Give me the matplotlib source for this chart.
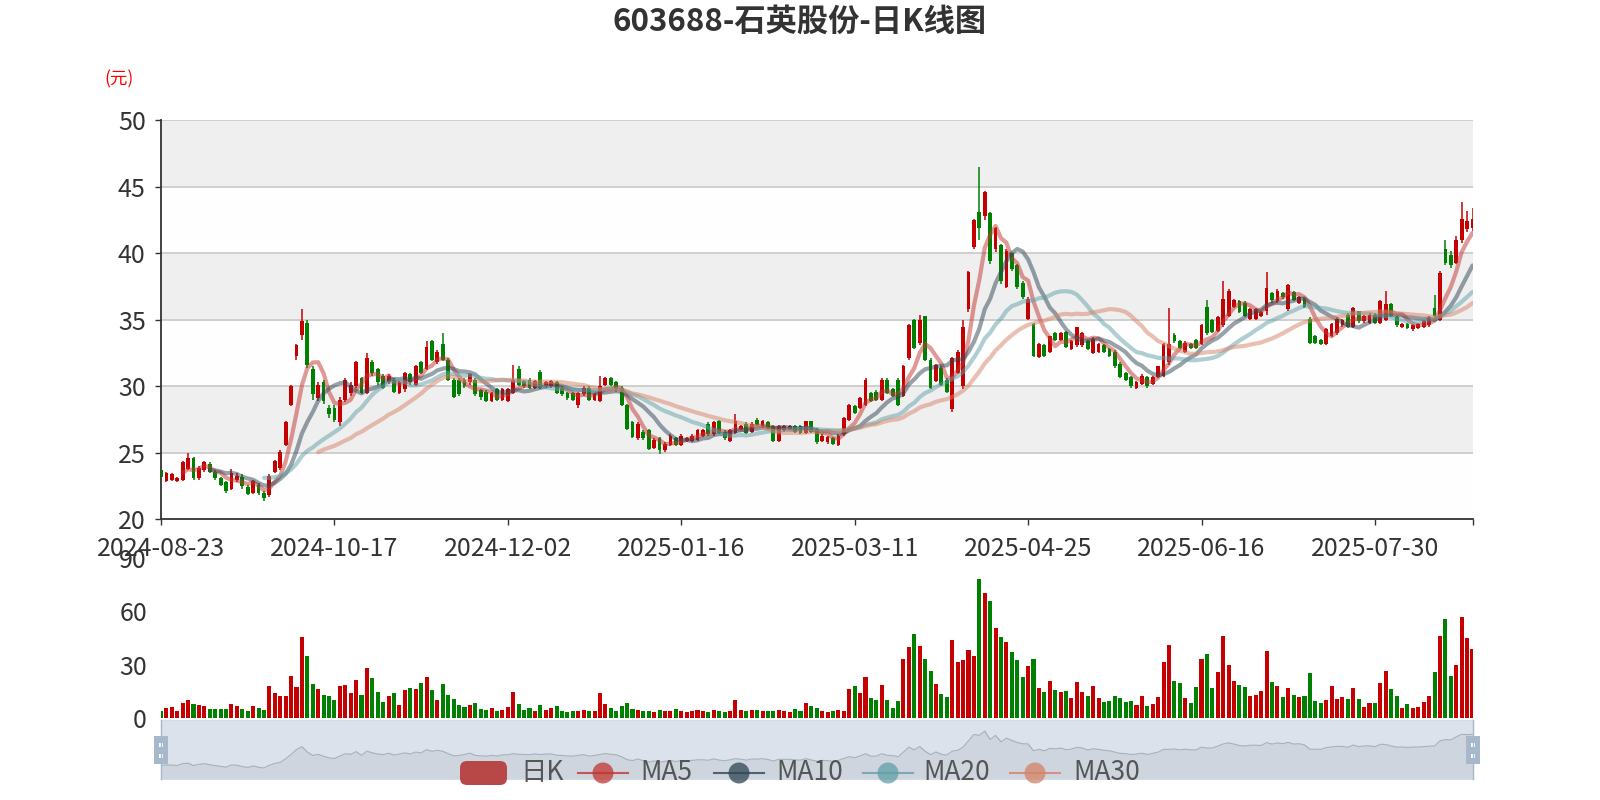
import numpy as np
import pandas as pd
import matplotlib.pyplot as plt
from matplotlib.patches import FancyBboxPatch, Rectangle, Circle

plt.rcParams['font.family'] = ['Noto Sans CJK SC', 'DejaVu Sans']

title = "603688-石英股份-日K线图"
tick_dates = ["2024-08-23", "2024-10-17", "2024-12-02", "2025-01-16",
              "2025-03-11", "2025-04-25", "2025-06-16", "2025-07-30"]

opens = [23.7, 22.9, 23.0, 22.9, 23.0, 23.8, 24.6, 23.1, 23.7, 24.2,
         23.6, 23.1, 22.8, 22.3, 23.0, 23.2, 22.4, 22.0, 22.6, 22.0,
         21.8, 23.6, 23.9, 25.6, 28.6, 32.3, 33.9, 34.8, 31.3, 29.1,
         30.3, 28.4, 28.4, 27.3, 29.0, 29.5, 30.0, 30.6, 29.5, 31.8,
         31.3, 30.8, 30.3, 30.5, 29.5, 29.8, 30.9, 30.1, 31.8, 31.3,
         33.4, 31.8, 33.2, 32.0, 30.5, 30.5, 30.5, 30.3, 30.5, 29.7,
         29.6, 28.9, 29.8, 29.0, 28.9, 29.5, 31.3, 30.4, 30.5, 29.9,
         31.1, 30.0, 30.0, 30.3, 29.9, 29.5, 29.5, 28.6, 29.4, 29.9,
         29.0, 28.9, 30.1, 30.6, 30.3, 29.9, 28.6, 27.3, 26.1, 26.6,
         26.7, 25.4, 26.1, 25.2, 25.6, 26.1, 25.6, 25.9, 25.9, 26.0,
         26.3, 27.2, 26.4, 27.4, 26.6, 25.9, 26.5, 26.8, 27.2, 26.6,
         27.5, 27.0, 27.3, 27.0, 25.9, 26.7, 26.8, 27.0, 27.0, 26.5,
         27.4, 26.8, 25.9, 25.8, 26.1, 25.6, 26.4, 27.5, 28.5, 28.4,
         28.6, 29.5, 29.6, 29.0, 30.5, 29.8, 30.5, 29.3, 32.1, 35.0,
         33.3, 35.3, 32.0, 30.4, 31.4, 30.5, 28.3, 31.0, 30.0, 35.8,
         40.5, 43.1, 42.8, 43.0, 40.3, 40.6, 37.5, 40.0, 39.1, 37.8,
         35.1, 34.7, 32.2, 33.1, 32.6, 34.0, 33.5, 34.1, 32.8, 33.1,
         33.1, 33.4, 32.5, 32.6, 33.1, 32.8, 32.6, 31.7, 31.0, 30.7,
         29.9, 30.2, 30.7, 30.2, 30.7, 30.8, 31.8, 33.9, 33.4, 32.6,
         33.2, 33.5, 33.2, 36.0, 35.0, 34.2, 34.6, 35.3, 36.0, 36.4,
         36.3, 35.1, 35.1, 35.3, 35.7, 37.0, 36.4, 37.0, 35.8, 37.1,
         36.3, 36.6, 35.1, 33.8, 33.5, 33.2, 33.8, 34.0, 34.6, 35.4,
         34.5, 35.7, 34.9, 34.8, 35.4, 34.8, 35.0, 36.2, 35.2, 34.5,
         34.7, 34.3, 34.4, 34.5, 34.6, 35.9, 35.0, 40.3, 39.9, 39.3,
         41.0, 41.8, 41.9]

closes = [23.2, 23.5, 23.4, 23.1, 24.3, 24.6, 23.1, 23.9, 24.3, 23.6,
          23.1, 22.6, 22.1, 23.5, 23.3, 22.5, 21.9, 22.9, 22.0, 21.6,
          23.3, 24.4, 25.1, 27.3, 30.0, 33.1, 34.9, 31.6, 29.4, 30.1,
          28.9, 27.9, 27.5, 29.0, 30.5, 30.1, 31.8, 29.5, 32.1, 31.0,
          30.3, 29.9, 30.8, 29.6, 30.3, 31.0, 30.3, 31.5, 31.0, 33.0,
          32.0, 32.6, 32.0, 30.5, 29.2, 29.4, 30.0, 30.9, 29.4, 29.2,
          28.9, 29.5, 29.0, 29.8, 29.8, 30.5, 30.1, 30.0, 29.9, 30.4,
          29.9, 30.3, 30.4, 29.5, 29.4, 29.1, 29.0, 29.5, 29.9, 29.0,
          29.4, 30.0, 30.6, 30.1, 29.8, 28.6, 26.8, 26.2, 27.2, 26.1,
          25.3, 26.0, 25.2, 25.7, 26.3, 25.6, 26.3, 26.1, 26.3, 26.7,
          26.7, 26.4, 27.3, 26.5, 26.1, 26.7, 27.4, 27.0, 26.5, 27.2,
          27.1, 27.4, 26.9, 25.9, 27.0, 27.0, 27.0, 26.6, 26.5, 27.4,
          26.6, 25.8, 26.3, 26.2, 25.7, 26.3, 27.6, 28.6, 28.0, 29.1,
          30.5, 28.9, 29.0, 30.5, 29.5, 29.3, 28.6, 31.5, 34.6, 32.9,
          35.0, 32.0, 29.9, 31.6, 30.1, 29.6, 32.1, 32.6, 34.5, 38.6,
          42.5, 41.9, 44.6, 39.4, 41.9, 37.9, 40.2, 38.8, 37.5, 36.7,
          36.6, 32.3, 33.2, 32.3, 33.8, 33.5, 34.0, 33.0, 33.4, 34.5,
          34.0, 32.8, 33.6, 33.2, 32.6, 32.3, 31.5, 30.7, 30.5, 30.0,
          30.3, 30.8, 30.0, 30.7, 31.5, 33.2, 33.2, 33.4, 32.9, 33.3,
          32.9, 32.9, 34.6, 34.0, 34.1, 35.2, 36.6, 37.2, 36.5, 35.6,
          35.3, 35.8, 35.8, 35.6, 37.4, 36.5, 37.2, 36.7, 37.6, 36.5,
          36.7, 36.0, 33.3, 33.3, 33.2, 34.3, 34.7, 35.1, 35.0, 34.5,
          35.9, 34.9, 35.3, 35.4, 34.8, 36.4, 36.2, 35.3, 34.6, 34.7,
          34.4, 34.6, 34.7, 34.9, 35.2, 35.3, 38.5, 39.3, 39.1, 41.0,
          42.6, 42.4, 42.6]

lows = [23.1, 22.8, 22.9, 22.8, 22.9, 23.7, 23.0, 23.0, 23.6, 23.5,
        23.0, 22.5, 22.0, 22.2, 22.8, 22.3, 21.8, 21.9, 21.8, 21.4,
        21.7, 23.5, 23.7, 25.5, 28.5, 32.0, 33.5, 31.4, 29.0, 28.9,
        28.7, 27.6, 27.3, 27.0, 28.8, 29.3, 29.9, 29.4, 29.4, 30.8,
        30.1, 29.8, 30.2, 29.5, 29.4, 29.6, 30.1, 30.0, 30.9, 31.2,
        31.9, 31.7, 31.9, 30.4, 29.1, 29.3, 29.9, 30.1, 29.3, 29.0,
        28.8, 28.8, 28.9, 28.9, 28.8, 29.4, 30.0, 29.9, 29.8, 29.8,
        29.8, 29.9, 29.9, 29.4, 29.3, 29.0, 28.9, 28.4, 29.3, 28.9,
        28.9, 28.8, 30.0, 30.0, 29.6, 28.5, 26.7, 26.1, 26.0, 26.0,
        25.2, 25.3, 24.9, 25.1, 25.5, 25.5, 25.5, 25.8, 25.8, 25.9,
        26.2, 26.3, 26.3, 26.4, 26.0, 25.8, 26.4, 26.7, 26.4, 26.5,
        27.0, 26.9, 26.8, 25.8, 25.8, 26.6, 26.7, 26.5, 26.4, 26.4,
        26.5, 25.7, 25.8, 25.7, 25.6, 25.5, 26.3, 27.4, 27.9, 28.3,
        28.5, 28.8, 28.9, 28.9, 29.4, 29.2, 28.5, 29.2, 32.0, 32.8,
        33.1, 31.9, 29.8, 30.3, 30.0, 29.5, 28.1, 30.9, 29.8, 35.6,
        40.3, 41.0, 42.5, 39.2, 40.1, 37.7, 37.4, 38.7, 37.3, 36.6,
        35.0, 32.2, 32.1, 32.2, 32.5, 33.4, 33.4, 32.9, 32.7, 33.0,
        33.0, 32.7, 32.4, 32.5, 32.5, 32.2, 31.4, 30.6, 30.4, 29.9,
        29.8, 30.1, 29.9, 30.1, 30.6, 30.7, 31.6, 33.3, 32.8, 32.5,
        32.8, 32.8, 33.1, 33.9, 34.0, 34.1, 34.5, 35.2, 35.9, 35.5,
        35.2, 35.0, 35.0, 35.2, 35.4, 36.3, 36.3, 36.6, 35.7, 36.4,
        36.2, 35.9, 33.2, 33.2, 33.1, 33.1, 33.7, 33.9, 34.5, 34.4,
        34.4, 34.8, 34.8, 34.7, 34.7, 34.7, 34.9, 35.2, 34.5, 34.4,
        34.3, 34.2, 34.3, 34.4, 34.5, 35.2, 34.9, 39.1, 38.9, 39.2,
        40.8, 41.6, 41.7]

highs = [23.8, 23.6, 23.5, 23.2, 24.4, 25.0, 24.7, 24.0, 24.4, 24.3,
         23.7, 23.2, 22.9, 23.8, 23.5, 23.4, 22.6, 23.0, 22.7, 22.1,
         23.4, 24.5, 25.2, 27.4, 30.1, 33.2, 35.8, 35.0, 31.5, 30.3,
         30.5, 28.6, 28.6, 29.2, 30.6, 30.3, 31.9, 30.7, 32.5, 32.0,
         31.4, 30.9, 30.9, 30.6, 30.4, 31.1, 31.0, 31.6, 31.9, 33.4,
         33.5, 32.7, 34.0, 32.1, 30.6, 30.6, 30.6, 31.0, 30.6, 29.8,
         29.7, 29.6, 29.9, 29.9, 29.9, 31.6, 31.5, 30.5, 30.6, 30.5,
         31.2, 30.4, 30.5, 30.4, 30.0, 29.6, 29.6, 29.6, 30.0, 30.0,
         29.5, 30.8, 30.7, 30.7, 30.4, 30.0, 28.7, 27.4, 27.3, 26.7,
         26.8, 26.1, 26.2, 25.8, 26.4, 26.2, 26.4, 26.2, 26.4, 26.8,
         26.8, 27.3, 27.4, 27.5, 26.7, 26.8, 27.9, 27.1, 27.3, 27.3,
         27.6, 27.5, 27.4, 27.1, 27.1, 27.1, 27.1, 27.1, 27.1, 27.4,
         27.4, 26.9, 26.4, 26.3, 26.2, 26.4, 27.7, 28.7, 28.6, 29.2,
         30.6, 29.6, 29.7, 30.6, 30.6, 29.9, 30.6, 31.6, 34.7, 35.1,
         35.4, 35.3, 32.1, 31.7, 31.5, 30.6, 32.2, 32.7, 35.0, 38.7,
         42.6, 46.5, 44.7, 43.1, 42.0, 40.7, 40.3, 40.0, 39.2, 37.9,
         36.7, 34.8, 33.3, 33.2, 33.8, 34.1, 34.1, 34.2, 33.5, 34.5,
         34.1, 33.5, 33.7, 33.3, 33.2, 32.9, 32.7, 31.8, 31.1, 30.8,
         30.4, 30.9, 30.8, 30.8, 31.5, 33.3, 35.9, 34.0, 33.5, 33.4,
         33.3, 33.6, 34.7, 36.5, 35.1, 35.3, 37.9, 37.3, 36.6, 36.5,
         36.4, 35.9, 35.9, 35.7, 38.6, 37.1, 37.3, 37.1, 37.7, 37.2,
         36.8, 36.7, 35.2, 33.9, 33.6, 34.4, 34.8, 35.2, 35.1, 35.5,
         36.0, 35.7, 35.4, 35.5, 35.5, 36.5, 37.2, 36.3, 35.3, 34.8,
         34.8, 34.7, 34.8, 35.0, 35.3, 36.9, 38.7, 41.0, 40.2, 41.3,
         43.9, 43.2, 43.4]

volumes = [4.1, 5.7, 6.2, 4.0, 8.5, 10.3, 8.1, 7.5, 7.0, 5.0,
           5.0, 5.0, 5.0, 8.1, 7.0, 5.0, 4.0, 7.0, 6.0, 4.5,
           18.2, 14.5, 12.6, 12.6, 23.8, 17.8, 45.5, 35.0, 19.3, 16.5,
           13.2, 12.6, 10.3, 18.2, 19.0, 14.5, 21.6, 13.0, 28.0, 22.7,
           15.0, 9.4, 12.6, 14.0, 7.5, 16.0, 17.0, 16.4, 19.7, 23.0,
           16.0, 10.3, 19.3, 13.2, 10.7, 7.5, 6.6, 7.5, 8.8, 5.1,
           4.5, 5.7, 4.2, 4.8, 6.6, 15.0, 8.1, 4.5, 6.0, 4.3,
           7.5, 4.5, 6.0, 7.1, 4.2, 3.8, 4.0, 4.3, 4.8, 4.0,
           4.2, 14.0, 7.9, 5.7, 4.3, 7.0, 8.5, 5.0, 4.5, 4.0,
           4.3, 3.8, 4.5, 4.0, 3.9, 5.0, 4.0, 3.7, 4.2, 4.9,
           4.1, 3.8, 4.8, 4.0, 3.6, 4.2, 10.3, 4.9, 4.2, 4.8,
           4.9, 4.0, 4.4, 4.2, 4.8, 4.0, 3.8, 5.0, 4.3, 8.5,
           7.0, 5.7, 4.3, 3.6, 4.0, 4.8, 4.4, 16.6, 18.4, 14.0,
           23.4, 11.3, 10.2, 19.0, 10.3, 5.8, 10.0, 33.2, 39.9, 47.6,
           40.5, 33.2, 26.6, 19.3, 13.5, 12.0, 44.0, 31.5, 32.8, 38.4,
           35.0, 78.3, 70.6, 65.9, 51.0, 45.5, 42.7, 37.0, 32.8, 23.0,
           29.6, 33.4, 17.2, 14.6, 21.2, 15.8, 14.8, 15.4, 11.3, 20.2,
           14.8, 12.6, 18.2, 11.5, 9.0, 10.0, 12.6, 11.3, 9.0, 10.0,
           7.5, 12.6, 7.0, 7.9, 12.0, 31.9, 41.0, 20.8, 19.7, 11.5,
           8.5, 17.4, 33.2, 36.4, 17.0, 25.9, 46.5, 29.8, 21.0, 18.7,
           17.8, 12.6, 13.1, 15.4, 37.8, 20.2, 18.2, 11.8, 17.2, 13.1,
           12.2, 12.6, 25.7, 9.8, 8.8, 10.2, 18.2, 11.0, 12.0, 11.0,
           16.9, 10.9, 6.6, 8.8, 8.8, 19.7, 26.8, 16.7, 12.6, 6.0,
           7.9, 6.0, 6.2, 9.4, 12.6, 26.2, 46.5, 55.7, 24.0, 30.0,
           57.0, 45.0, 39.0]

ma_periods = [5, 10, 20, 30]
ma_colors = ['#c23531', '#2f4554', '#61a0a8', '#d48265']
up_color = '#c40000'
down_color = '#008000'

o = np.array(opens)
c = np.array(closes)
n = len(c)
x = np.arange(n)
cols = np.where(c >= o, up_color, down_color)

W, H = 1600, 800
def box(l, t, r, b):
    return [l / W, 1 - b / H, (r - l) / W, (b - t) / H]

fig = plt.figure(figsize=(16, 8), dpi=100)
fig.patch.set_facecolor('white')

# ---- price panel
ax = fig.add_axes(box(161, 120.4, 1472.5, 519.4))
ax.set_xlim(0, n - 1)
ax.set_ylim(20, 50)
for k, y0 in enumerate(range(20, 50, 5)):
    ax.axhspan(y0, y0 + 5, color='#fefefe' if k % 2 == 0 else '#efefef', lw=0, zorder=0)
for y in range(25, 51, 5):
    ax.axhline(y, color='#cccccc', lw=1.3, zorder=1)

ax.vlines(x, lows, highs, colors=cols, lw=1.1, zorder=3)
body = np.maximum(np.abs(c - o), 0.06)
ax.bar(x, body, bottom=np.minimum(o, c), width=0.7, color=cols, lw=0, zorder=4)

for p, col in zip(ma_periods, ma_colors):
    ma = pd.Series(closes).rolling(p).mean()
    ax.plot(x, ma, color=col, lw=3, alpha=0.5, zorder=5, solid_capstyle='round')

ax.set_yticks(range(20, 51, 5))
ax.set_xticks(x[::32])
ax.set_xticklabels(tick_dates)
ax.set_xticks([n - 1], minor=True)
ax.tick_params(axis='y', length=4, width=1, color='#333333', pad=7, labelsize=18, labelcolor='#333333')
ax.tick_params(axis='x', which='both', length=4, width=1, color='#333333', pad=8, labelsize=18, labelcolor='#333333')
for s in ['top', 'right']:
    ax.spines[s].set_visible(False)
for s in ['left', 'bottom']:
    ax.spines[s].set_color('#333333')
    ax.spines[s].set_linewidth(1.3)

# ---- volume panel
vax = fig.add_axes(box(161, 558, 1472.5, 718.4))
vax.set_xlim(0, n - 1)
vax.set_ylim(0, 90)
vax.bar(x, volumes, width=0.75, color=cols, lw=0)
vax.set_yticks([0, 30, 60, 90])
vax.set_xticks([])
vax.tick_params(axis='y', length=0, pad=10, labelsize=18, labelcolor='#333333')
for s in vax.spines.values():
    s.set_visible(False)
vax.patch.set_alpha(0)

# ---- data zoom slider
sax = fig.add_axes(box(161, 720, 1472.5, 779))
sax.set_facecolor('#dce2eb')
lo, hi = min(closes), max(closes)
pad = (hi - lo) * 0.3
sax.set_xlim(0, n - 1)
sax.set_ylim(lo - pad, hi + pad)
sax.fill_between(x, closes, lo - pad, color=(47 / 255, 69 / 255, 84 / 255, 0.08), lw=0)
sax.plot(x, closes, color=(47 / 255, 69 / 255, 84 / 255, 0.3), lw=0.8)
sax.set_xticks([])
sax.set_yticks([])
for s in sax.spines.values():
    s.set_color('#d5dbe4')
    s.set_linewidth(0.8)

# ---- overlay: title, unit, handles, legend
ov = fig.add_axes([0, 0, 1, 1])
ov.set_xlim(0, W)
ov.set_ylim(H, 0)
ov.axis('off')
ov.patch.set_alpha(0)

ov.text(800, 22, title, ha='center', va='center', fontsize=22.5, fontweight='bold', color='#333333')
ov.text(119, 79, '(元)', ha='center', va='center', fontsize=12.5, color='red')

for hx in (161, 1472.5):
    ov.plot([hx, hx], [720, 779], color='#a7b7cc', lw=1)
    ov.add_patch(Rectangle((hx - 7, 736), 14, 28, color='#a7b7cc', lw=0))
    for sy in (743, 754):
        ov.add_patch(Rectangle((hx - 2, sy), 4, 4, color='white', lw=0))

leg_y = 773
ov.add_patch(FancyBboxPatch((460, leg_y - 12), 47, 24, boxstyle='round,pad=0,rounding_size=7',
                            color='#b84848', lw=0))
ov.text(520, leg_y, '日K', ha='left', va='center', fontsize=19, color='#555555')
leg_items = [('MA5', 578, 640), ('MA10', 714, 776), ('MA20', 863, 923), ('MA30', 1010, 1073)]
for (name, lx, tx), col in zip(leg_items, ma_colors):
    ov.plot([lx, lx + 50], [leg_y, leg_y], color=col, lw=1.5, alpha=0.8)
    ov.add_patch(Circle((lx + 25, leg_y), 10.5, color=col, alpha=0.75, lw=0))
    ov.text(tx, leg_y, name, ha='left', va='center', fontsize=19, color='#555555')

fig.savefig('out.png', dpi=100)
